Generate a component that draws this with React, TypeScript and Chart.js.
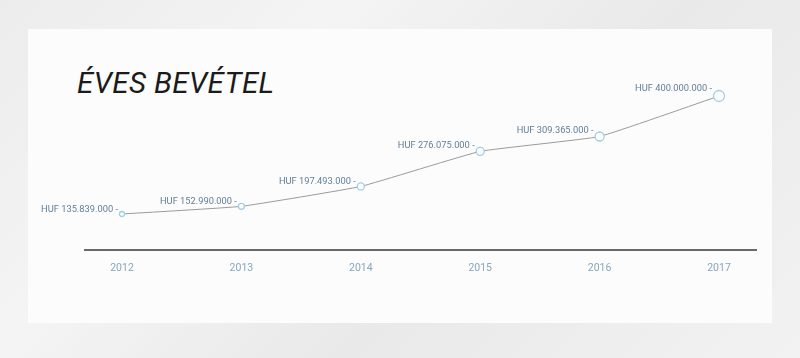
import React, { useEffect, useRef } from "react";
import { Chart, registerables } from "chart.js";

Chart.register(...registerables);

const years = ["2012", "2013", "2014", "2015", "2016", "2017"];
const revenue = [135839000, 152990000, 197493000, 276075000, 309365000, 400000000];
const pointLabels = [
  "HUF 135.839.000 -",
  "HUF 152.990.000 -",
  "HUF 197.493.000 -",
  "HUF 276.075.000 -",
  "HUF 309.365.000 -",
  "HUF 400.000.000 -",
];
const pointSizes = [2.5, 3, 3.5, 4, 4.5, 5.5];
const title = "ÉVES BEVÉTEL";

const labelPlugin = {
  id: "pointLabels",
  afterDatasetsDraw(chart: any) {
    const ctx = chart.ctx;
    const meta = chart.getDatasetMeta(0);
    ctx.save();
    ctx.font = "9.3px Roboto";
    ctx.fillStyle = "#5f7f98";
    ctx.textAlign = "right";
    ctx.textBaseline = "middle";
    meta.data.forEach((pt: any, i: number) => {
      const r = pointSizes[i];
      ctx.fillText(pointLabels[i], pt.x - r - 1.5, pt.y - r - 1.5);
    });
    ctx.restore();
  },
};

const baselinePlugin = {
  id: "baseline",
  beforeDatasetsDraw(chart: any) {
    const ctx = chart.ctx;
    const { left, right, bottom } = chart.chartArea;
    ctx.save();
    ctx.strokeStyle = "#6a6a6a";
    ctx.lineWidth = 2;
    ctx.beginPath();
    ctx.moveTo(left - 38, bottom);
    ctx.lineTo(right + 38, bottom);
    ctx.stroke();
    ctx.restore();
  },
};

export default function App() {
  const ref = useRef<HTMLCanvasElement | null>(null);
  useEffect(() => {
    document.body.style.margin = "0";
    const chart = new Chart(ref.current as HTMLCanvasElement, {
      type: "line",
      data: {
        labels: years,
        datasets: [
          {
            data: revenue,
            borderColor: "#9a9a9a",
            borderWidth: 1,
            tension: 0.1,
            pointRadius: pointSizes,
            pointBackgroundColor: "#ffffff",
            pointBorderColor: "#9fd0e3",
            pointBorderWidth: 1.3,
            clip: false as any,
          },
        ],
      },
      options: {
        animation: false,
        responsive: false,
        layout: { padding: { left: 122, right: 81, top: 40, bottom: 78 } },
        plugins: { legend: { display: false }, tooltip: { enabled: false }, title: { display: false } },
        scales: {
          x: {
            offset: false,
            grid: { display: false, drawTicks: false },
            border: { display: false },
            ticks: { color: "#86a6bd", font: { size: 10.5, family: "Roboto" }, padding: 12 },
            afterFit: (s: any) => {
              s.height = 30;
            },
          },
          y: { display: false, min: 55250000, max: 525370000 },
        },
      },
      plugins: [labelPlugin, baselinePlugin],
    });
    return () => chart.destroy();
  }, []);

  return (
    <div
      style={{
        position: "relative",
        width: 800,
        height: 358,
        overflow: "hidden",
        background: "linear-gradient(135deg, #ececec 0%, #f4f4f4 30%, #e9e9e9 60%, #f2f2f2 100%)",
      }}
    >
      <div
        style={{
          position: "absolute",
          left: 28,
          top: 29,
          width: 744,
          height: 294,
          background: "#fcfcfc",
        }}
      />
      <div
        style={{
          position: "absolute",
          left: 77,
          top: 63,
          fontFamily: "Roboto, sans-serif",
          fontStyle: "italic",
          fontSize: 29.5,
          color: "#1b1b1b",
          letterSpacing: 0.4,
          lineHeight: "40px",
          whiteSpace: "nowrap",
        }}
      >
        {title}
      </div>
      <canvas ref={ref} width={800} height={358} style={{ position: "absolute", left: 0, top: 0 }} />
    </div>
  );
}
